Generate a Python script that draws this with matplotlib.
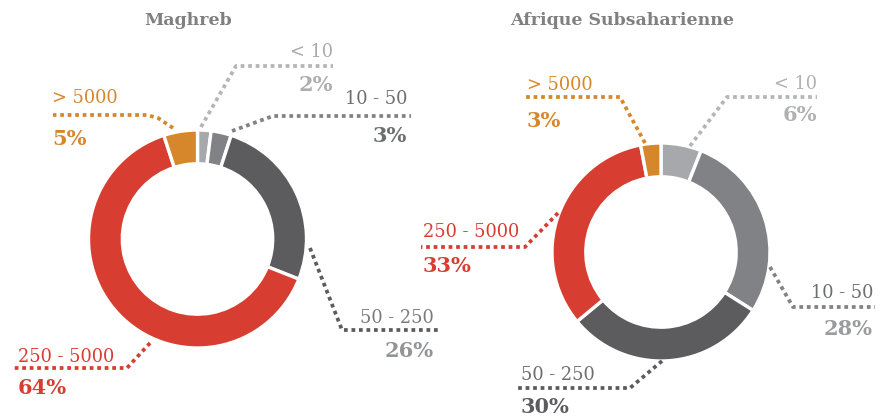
import matplotlib
matplotlib.use("Agg")
import matplotlib.pyplot as plt

# ---------------- data ----------------
categories = ['< 10', '10 - 50', '50 - 250', '250 - 5000', '> 5000']
maghreb = [2, 3, 26, 64, 5]
subsaharan = [6, 28, 30, 33, 3]
titles = ['Maghreb', 'Afrique Subsaharienne']

# ---------------- styles ----------------
slice_colors = ['#a7a8ab', '#818285', '#5c5c5f', '#d83d31', '#d7872b']
line_colors = ['#b4b5b7', '#818285', '#5c5c5f', '#d83d31', '#d7872b']
W, H = 880, 417
FONT = 'DejaVu Serif'


def P(x, y):
    return x, H - y


fig = plt.figure(figsize=(W / 100, H / 100), dpi=100)
ax = fig.add_axes([0, 0, 1, 1])

# layout: centre / radius of donuts, and for each category the leader path,
# text anchor, alignment, label colour, pct colour
charts = [
    dict(values=maghreb, title=titles[0], title_pos=(188, 25), center=(197.5, 239), r=109,
         labels=[
             dict(path=[(201, 127), (236, 66), (333, 66)], tx=333, ty=(57, 91), ha='right',
                  c1='#a9aaac', c2='#adaeb0'),
             dict(path=[(232, 131), (273, 116), (411, 116)], tx=407, ty=(104, 142), ha='right',
                  c1='#6d6e70', c2='#6d6e70'),
             dict(path=[(310, 248), (342, 330), (438, 330)], tx=434, ty=(323, 357), ha='right',
                  c1='#7b7c7e', c2='#939496'),
             dict(path=[(150, 343), (127, 368), (13, 368)], tx=18, ty=(362, 394), ha='left',
                  c1='#d83d31', c2='#d83d31'),
             dict(path=[(173, 128), (158, 118), (147, 115), (53, 115)], tx=52, ty=(103, 145), ha='left',
                  c1='#d7872b', c2='#d7872b'),
         ]),
    dict(values=subsaharan, title=titles[1], title_pos=(622.5, 25), center=(661, 252), r=109,
         labels=[
             dict(path=[(690, 146), (727, 97), (817, 97)], tx=817, ty=(89, 121), ha='right',
                  c1='#b0b1b3', c2='#b0b1b3'),
             dict(path=[(770, 267), (793, 307), (875, 307)], tx=873, ty=(298, 335), ha='right',
                  c1='#6d6e70', c2='#9a9b9d'),
             dict(path=[(662, 361), (630, 388), (516, 388)], tx=521, ty=(380, 413), ha='left',
                  c1='#6d6e70', c2='#5c5c5f'),
             dict(path=[(558, 213), (525, 247), (421, 247)], tx=423, ty=(237, 272), ha='left',
                  c1='#d83d31', c2='#d83d31'),
             dict(path=[(645, 143), (620, 97), (526, 97)], tx=527, ty=(90, 127), ha='left',
                  c1='#d7872b', c2='#d7872b'),
         ]),
]

for ch in charts:
    cx, cy = ch['center']
    ax.pie(ch['values'], colors=slice_colors, startangle=90, counterclock=False,
           radius=ch['r'], center=P(cx, cy),
           wedgeprops=dict(width=ch['r'] * 0.31, edgecolor='white', linewidth=2.4))
    ax.text(*P(*ch['title_pos']), ch['title'], ha='center', va='baseline',
            fontsize=12.5, fontweight='bold', color='#808080', family=FONT)
    for i, lab in enumerate(ch['labels']):
        xs = [p[0] for p in lab['path']]
        ys = [H - p[1] for p in lab['path']]
        ax.plot(xs, ys, color=line_colors[i], lw=2.7, linestyle=(0, (1.0, 1.0)),
                dash_capstyle='butt', solid_joinstyle='miter')
        ax.text(*P(lab['tx'], lab['ty'][0]), categories[i], ha=lab['ha'], va='baseline',
                fontsize=12.8, color=lab['c1'], family=FONT)
        ax.text(*P(lab['tx'], lab['ty'][1]), f"{ch['values'][i]}%", ha=lab['ha'], va='baseline',
                fontsize=15, fontweight='bold', color=lab['c2'], family=FONT)

ax.set_xlim(0, W)
ax.set_ylim(0, H)
ax.set_aspect('equal')
ax.axis('off')
fig.savefig('out.png', dpi=100, facecolor='white')
